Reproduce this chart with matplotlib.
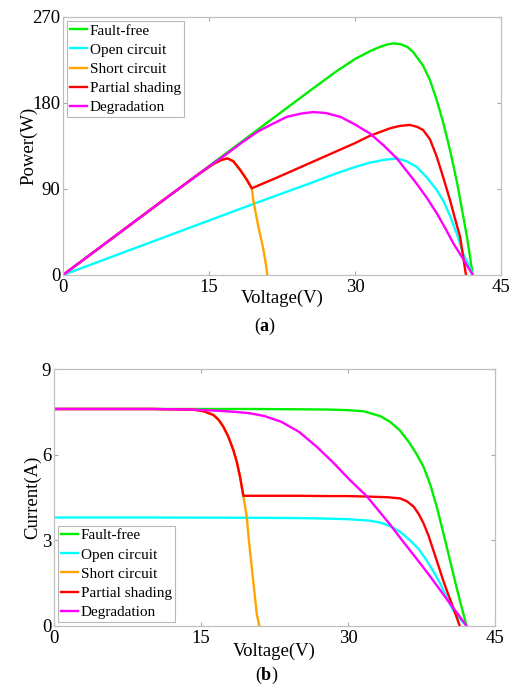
import matplotlib
matplotlib.use('Agg')
import matplotlib.pyplot as plt

plt.rcParams['font.family'] = ['Liberation Serif', 'DejaVu Serif']
plt.rcParams['mathtext.fontset'] = 'custom'
plt.rcParams['mathtext.rm'] = 'Liberation Serif'
plt.rcParams['mathtext.bf'] = 'Liberation Serif:bold'

labels = ['Fault-free', 'Open circuit', 'Short circuit', 'Partial shading', 'Degradation']
colors = ['#00ee00', '#00ffff', '#ffa500', '#ff0000', '#ff00ff']

# ---- P-V curves (a) ----
green_pv_v = [0, 10, 20, 25, 28, 30, 31.5, 32.5, 33.3, 34, 34.7, 35.4, 36, 37, 37.7, 38.4, 39.1, 39.8, 40.5, 41, 41.5, 42.1]
green_pv_p = [0, 76, 152, 190, 212.5, 226, 234, 238.5, 241.2, 242.4, 241.5, 238.5, 233, 219, 204, 183, 158, 129, 96, 68, 40, 0]

cyan_pv_v = [0, 10, 20, 25, 28, 30, 31.5, 33, 34.3, 35.3, 36.3, 37.3, 38.4, 39.1, 39.8, 40.5, 41.1, 41.6, 42.1]
cyan_pv_p = [0, 38, 76, 94.5, 106, 113, 117.5, 120.5, 122, 119, 113.4, 103, 89, 77, 61, 42, 22.7, 12, 0]

orange_pv_v = [0, 10, 14, 15.5, 16.3, 16.9, 17.5, 18.2, 18.9, 19.39, 19.55, 19.8, 20.07, 20.35, 20.6, 20.8, 21.0]
orange_pv_p = [0, 76, 106, 116.5, 120.5, 122, 119, 110, 99.4, 90.7, 78.5, 65, 50.6, 38, 26, 14, 0]

red_pv_v = [0, 10, 14, 15.5, 16.3, 16.9, 17.5, 18.2, 18.9, 19.39, 22, 25, 28, 30, 31.5, 33.6, 34.6, 35.65,
            36.4, 37.0, 37.7, 38.4, 39.1, 39.8, 40.3, 40.8, 41.4]
red_pv_p = [0, 76, 106, 116.5, 120.5, 122, 119, 110, 99.4, 90.7, 102, 115.5, 129, 138, 145.5, 153.5, 156, 157,
            155, 151.7, 142, 123.8, 101, 77, 58, 40, 0]

mag_pv_v = [0, 10, 15, 16.8, 18.5, 20, 21.5, 23, 24.5, 25.7, 27, 28.5, 30, 31.5, 32.9, 34.3, 35.3, 36.3,
            37.4, 38.4, 39.3, 40.1, 41.1, 42.1]
mag_pv_p = [0, 76, 113.5, 126.5, 139.5, 150, 158, 165.5, 169, 170.5, 169.5, 165.5, 157.5, 148.3, 136, 122, 109, 96,
            80.5, 64.6, 48.5, 33.2, 17, 0]

# ---- I-V curves (b) ----
green_iv_v = [0, 10, 20, 25, 28, 30, 31.6, 32.2, 33.3, 34.3, 35.3, 36.3, 37.0, 37.7, 38.4, 39.05, 39.7, 40.4,
              40.9, 41.4, 42.1]
green_iv_i = [7.6, 7.6, 7.6, 7.59, 7.58, 7.56, 7.52, 7.46, 7.35, 7.15, 6.85, 6.4, 6.02, 5.58, 4.95, 4.18, 3.3, 2.31,
              1.6, 0.91, 0]

cyan_iv_v = [0, 10, 20, 25, 28, 30, 32.2, 33.3, 34.3, 35.3, 36.3, 37.2, 38.0, 38.7, 39.4, 40.0, 40.7, 41.4, 42.1]
cyan_iv_i = [3.8, 3.8, 3.79, 3.78, 3.76, 3.74, 3.69, 3.62, 3.5, 3.3, 3.01, 2.7, 2.31, 1.92, 1.49, 1.05, 0.56, 0.25, 0]

orange_iv_v = [0, 10, 14.2, 15.3, 16.26, 16.8, 17.28, 17.8, 18.3, 18.65, 18.98, 19.32, 19.66, 19.9, 20.17,
               20.45, 20.68, 20.95]
orange_iv_i = [7.6, 7.6, 7.58, 7.52, 7.39, 7.22, 6.98, 6.62, 6.16, 5.75, 5.23, 4.56, 3.83, 2.95, 2.08,
               1.2, 0.44, 0]

red_iv_v = [0, 10, 14.2, 15.3, 16.26, 16.8, 17.28, 17.8, 18.3, 18.65, 18.98, 19.32, 22, 25, 28, 30, 32.2, 34,
            35.3, 36.0, 36.7, 37.2, 37.7, 38.2, 38.7, 39.2, 39.7, 40.2, 40.7, 41.4]
red_iv_i = [7.6, 7.6, 7.58, 7.52, 7.39, 7.22, 6.98, 6.62, 6.16, 5.75, 5.23, 4.56, 4.56, 4.56, 4.55, 4.55, 4.53, 4.51,
            4.47, 4.37, 4.18, 3.93, 3.6, 3.18, 2.66, 2.14, 1.61, 1.13, 0.68, 0]

mag_iv_v = [0, 10, 14, 16.6, 18.5, 20, 21.5, 23.2, 25, 26.8, 28.5, 30.2, 31.9, 33.1, 34.3, 35.3, 36.3, 37.35,
            38.4, 39.4, 40.4, 41.25, 42.1]
mag_iv_i = [7.6, 7.6, 7.58, 7.54, 7.5, 7.45, 7.35, 7.15, 6.8, 6.28, 5.72, 5.11, 4.55, 4.05, 3.55, 3.1, 2.66, 2.2,
            1.73, 1.26, 0.79, 0.4, 0]

pv = [(green_pv_v, green_pv_p), (cyan_pv_v, cyan_pv_p), (orange_pv_v, orange_pv_p),
      (red_pv_v, red_pv_p), (mag_pv_v, mag_pv_p)]
iv = [(green_iv_v, green_iv_i), (cyan_iv_v, cyan_iv_i), (orange_iv_v, orange_iv_i),
      (red_iv_v, red_iv_i), (mag_iv_v, mag_iv_i)]

fig = plt.figure(figsize=(5.13, 6.93), dpi=100)
ax1 = fig.add_axes([0.1228, 0.6032, 0.8538, 0.3723])
ax2 = fig.add_axes([0.1053, 0.0967, 0.8596, 0.3708])


def style(ax, ymax, ystep, ylabel, ylab_x, xlab_y):
    ax.set_xlim(0, 45)
    ax.set_ylim(0, ymax)
    ax.set_xticks([0, 15, 30, 45])
    ax.set_yticks(list(range(0, ymax + 1, ystep)))
    for s in ax.spines.values():
        s.set_color('#c0c0c0')
        s.set_linewidth(0.9)
    ax.tick_params(direction='in', top=True, right=True, length=3, color='#a8a8a8',
                   labelsize=13.5)
    ax.tick_params(axis='x', pad=3)
    ax.tick_params(axis='y', pad=2)
    ax.set_xlabel('Voltage(V)', fontsize=13.5)
    ax.set_ylabel(ylabel, fontsize=13.5)
    ax.yaxis.set_label_coords(ylab_x, 0.5)
    ax.xaxis.set_label_coords(0.5, xlab_y)


for (v, y), c, lab in zip(pv, colors, labels):
    ax1.plot(v, y, color=c, lw=1.7, label=lab)
for (v, y), c, lab in zip(iv, colors, labels):
    ax2.plot(v, y, color=c, lw=1.7, label=lab)

style(ax1, 270, 90, 'Power(W)', -0.058, -0.058)
style(ax2, 9, 3, 'Current(A)', -0.03, -0.066)

leg_kw = dict(fontsize=11, handlelength=1.1, handletextpad=0.2, borderpad=0.2,
              labelspacing=0.36, fancybox=False, framealpha=1, borderaxespad=0.25)
l1 = ax1.legend(loc='upper left', **leg_kw)
l2 = ax2.legend(loc='lower left', **leg_kw)
for l in (l1, l2):
    l.get_frame().set_edgecolor('#b8b8b8')
    l.get_frame().set_linewidth(0.8)

fig.text(0.517, 0.529, r'($\mathbf{a}$)', ha='center', va='center', fontsize=13)
fig.text(0.52, 0.025, r'($\mathbf{b}$)', ha='center', va='center', fontsize=13)

fig.savefig('out.png', dpi=100)
